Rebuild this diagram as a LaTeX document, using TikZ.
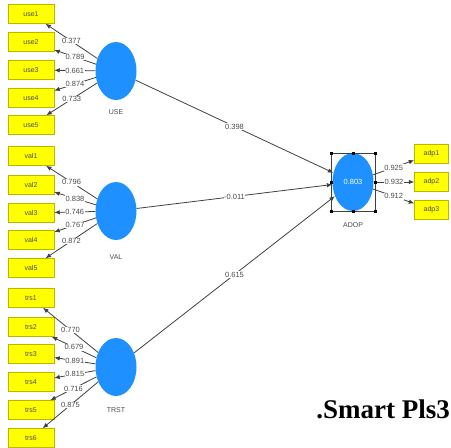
\documentclass[tikz,border=0pt]{standalone}
\usepackage{fontspec}
\setmainfont{Liberation Sans}
\newfontfamily\capfont{Liberation Serif}
\usetikzlibrary{shapes.geometric,arrows.meta}
\definecolor{indfill}{HTML}{FFFF00}
\definecolor{indedge}{HTML}{B8B800}
\definecolor{lvfill}{HTML}{1E90FF}
\definecolor{linegray}{HTML}{404040}
\definecolor{txtgray}{HTML}{4A4A4A}
\tikzset{
  ind/.style={rectangle, fill=indfill, draw=indedge, line width=0.5pt,
    minimum width=46pt, minimum height=19pt, inner sep=0pt,
    font=\fontsize{7}{8}\selectfont, text=txtgray},
  indr/.style={ind, minimum width=34pt},
  lv/.style={ellipse, fill=lvfill, minimum width=41pt, minimum height=58pt,
    inner sep=0pt, font=\fontsize{7.5}{9}\selectfont, text=white},
  lvname/.style={font=\fontsize{7}{8}\selectfont, text=txtgray},
  arr/.style={draw=linegray, line width=0.8pt, -{Latex[length=5.5pt,width=4.5pt]}},
  lbl/.style={fill=white, inner sep=0.6pt, font=\fontsize{7.5}{8}\selectfont, text=txtgray},
  handle/.style={rectangle, fill=black, minimum size=3pt, inner sep=0pt},
}
\begin{document}
\begin{tikzpicture}[x=1pt, y=-1pt]
\useasboundingbox (0,0) rectangle (451,448);

% latent variables
\node[lv] (USE) at (116,71) {};
\node[lv] (VAL) at (116,211) {};
\node[lv] (TRST) at (116,367) {};
\node[lv] (ADOP) at (353,182) {0.803};
\node[lvname] (nUSE) at (116,112) {USE};
\node[lvname] (nVAL) at (116,257) {VAL};
\node[lvname] (nTRST) at (116,410) {TRST};
\node[lvname] (nADOP) at (353,225) {ADOP};

% indicators
\node[ind] (use1) at (31,14) {use1};
\node[ind] (use2) at (31,42) {use2};
\node[ind] (use3) at (31,70) {use3};
\node[ind] (use4) at (31,98) {use4};
\node[ind] (use5) at (31,125) {use5};

\node[ind] (val1) at (31,156) {val1};
\node[ind] (val2) at (31,185) {val2};
\node[ind] (val3) at (31,213) {val3};
\node[ind] (val4) at (31,240) {val4};
\node[ind] (val5) at (31,268) {val5};

\node[ind] (trs1) at (31,298) {trs1};
\node[ind] (trs2) at (31,327) {trs2};
\node[ind] (trs3) at (31,354) {trs3};
\node[ind] (trs4) at (31,382) {trs4};
\node[ind] (trs5) at (31,410) {trs5};
\node[ind] (trs6) at (31,438) {trs6};

\node[indr] (adp1) at (431.5,154) {adp1};
\node[indr] (adp2) at (431.5,182) {adp2};
\node[indr] (adp3) at (431.5,209.5) {adp3};

% outer loadings
\draw[arr] (USE) -- node[lbl]{0.377} (use1);
\draw[arr] (USE) -- node[lbl]{0.789} (use2);
\draw[arr] (USE) -- node[lbl]{0.661} (use3);
\draw[arr] (USE) -- node[lbl]{0.874} (use4);
\draw[arr] (USE) -- node[lbl]{0.733} (use5);

\draw[arr] (VAL) -- node[lbl]{0.796} (val1);
\draw[arr] (VAL) -- node[lbl]{0.838} (val2);
\draw[arr] (VAL) -- node[lbl]{0.746} (val3);
\draw[arr] (VAL) -- node[lbl]{0.767} (val4);
\draw[arr] (VAL) -- node[lbl]{0.872} (val5);

\draw[arr] (TRST) -- node[lbl]{0.770} (trs1);
\draw[arr] (TRST) -- node[lbl]{0.679} (trs2);
\draw[arr] (TRST) -- node[lbl]{0.891} (trs3);
\draw[arr] (TRST) -- node[lbl]{0.815} (trs4);
\draw[arr] (TRST) -- node[lbl]{0.716} (trs5);
\draw[arr] (TRST) -- node[lbl]{0.875} (trs6);

\draw[arr] (ADOP) -- node[lbl]{0.925} (adp1);
\draw[arr] (ADOP) -- node[lbl]{0.932} (adp2);
\draw[arr] (ADOP) -- node[lbl]{0.912} (adp3);

% path coefficients
\draw[arr] (USE) -- node[lbl]{0.398} (ADOP);
\draw[arr] (VAL) -- node[lbl]{-0.011} (ADOP);
\draw[arr] (TRST) -- node[lbl]{0.615} (ADOP);

% selection frame around ADOP
\draw[linegray, line width=0.5pt] (331,153) rectangle (375,211);
\foreach \hx in {331,353,375}{
  \node[handle] at (\hx,153) {};
  \node[handle] at (\hx,211) {};
}
\node[handle] at (331,182) {};
\node[handle] at (375,182) {};

% caption
\node[anchor=base east, inner sep=0pt, font=\capfont\bfseries\fontsize{27}{30}\selectfont] (cap) at (450,418) {.Smart Pls3};
\end{tikzpicture}
\end{document}
